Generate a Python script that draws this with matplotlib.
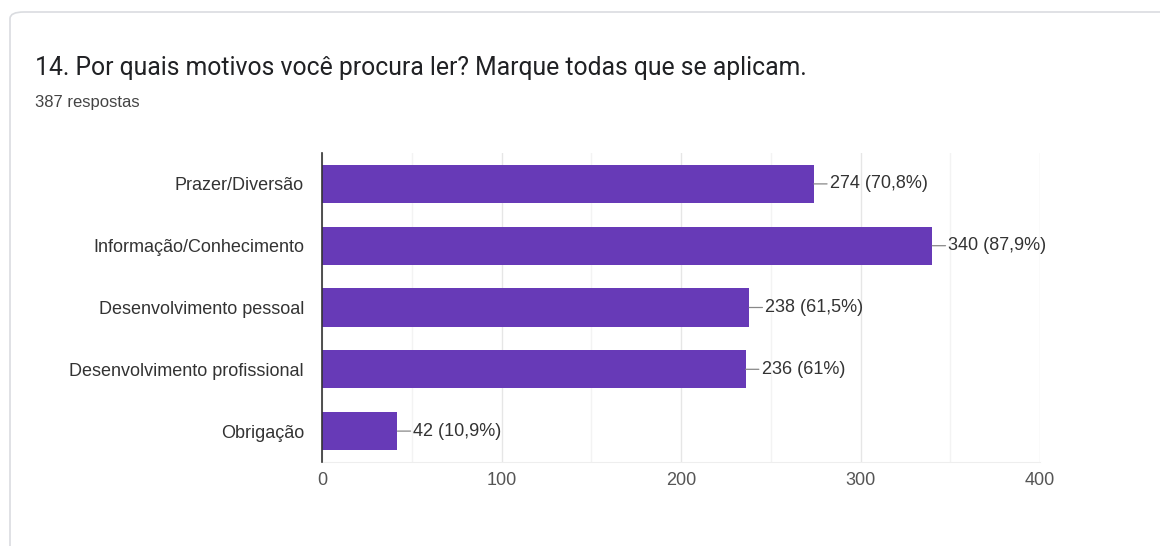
import matplotlib.pyplot as plt
from matplotlib.patches import FancyBboxPatch

TITLE = '14. Por quais motivos você procura ler? Marque todas que se aplicam.'
SUBTITLE = '387 respostas'

categories = [
    'Prazer/Diversão',
    'Informação/Conhecimento',
    'Desenvolvimento pessoal',
    'Desenvolvimento profissional',
    'Obrigação',
]
counts = [274, 340, 238, 236, 42]
percents = ['70,8%', '87,9%', '61,5%', '61%', '10,9%']
xticks = [0, 100, 200, 300, 400]

BAR_COLOR = '#673ab7'
TEXT = '#333333'
TICK_TEXT = '#555555'
LABEL_FONT = ['Liberation Sans', 'DejaVu Sans']
LABEL_SIZE = 13

fig = plt.figure(figsize=(11.6, 5.46), dpi=100)
fig.patch.set_facecolor('white')

# card background
card = FancyBboxPatch((10 / 1160, -0.05), 1.2, (546 - 12) / 546 + 0.05,
                      boxstyle='round,pad=0,rounding_size=0.012',
                      transform=fig.transFigure, facecolor='white',
                      edgecolor='#dadce0', linewidth=1.2, zorder=-5)
fig.patches.append(card)

fig.text(35 / 1160, 1 - 68 / 546, TITLE, fontsize=17.8, family=['Roboto', 'DejaVu Sans'],
         color='#202124', va='center', ha='left')
fig.text(35 / 1160, 1 - 103 / 546, SUBTITLE, fontsize=12, family=LABEL_FONT,
         color='#444444', va='center', ha='left')

ax = fig.add_axes([322 / 1160, 1 - 462 / 546, (1040 - 322) / 1160, (462 - 153) / 546])
ax.set_facecolor('none')

ypos = list(range(len(categories)))
ax.barh(ypos, counts, height=0.615, color=BAR_COLOR, zorder=3)

for y, c, p in zip(ypos, counts, percents):
    ax.annotate(f'{c} ({p})', xy=(c, y), xytext=(16, 0), textcoords='offset pixels',
                va='center', ha='left', fontsize=LABEL_SIZE, family=LABEL_FONT, color=TEXT,
                arrowprops=dict(arrowstyle='-', color='#888888', lw=0.9,
                                shrinkA=0, shrinkB=0))

ax.set_xlim(0, 400)
ax.set_ylim(len(categories) - 0.5, -0.5)
ax.set_yticks(ypos)
ax.set_yticklabels(categories, fontsize=LABEL_SIZE, family=LABEL_FONT, color=TEXT)
ax.set_xticks(xticks)
ax.set_xticklabels([str(t) for t in xticks], fontsize=LABEL_SIZE, family=LABEL_FONT, color=TICK_TEXT)
ax.set_xticks([50, 150, 250, 350], minor=True)
ax.tick_params(axis='both', length=0, which='both')
ax.tick_params(axis='y', pad=13)
ax.tick_params(axis='x', pad=7)

ax.grid(axis='x', which='major', color='#e6e6e6', lw=1, zorder=0)
ax.grid(axis='x', which='minor', color='#f3f3f3', lw=1, zorder=0)

for s in ['top', 'right']:
    ax.spines[s].set_visible(False)
ax.spines['bottom'].set_color('#eeeeee')
ax.spines['left'].set_color('#333333')
ax.spines['left'].set_linewidth(1.2)
ax.spines['left'].set_zorder(4)

fig.savefig('out.png', dpi=100, facecolor='white')
